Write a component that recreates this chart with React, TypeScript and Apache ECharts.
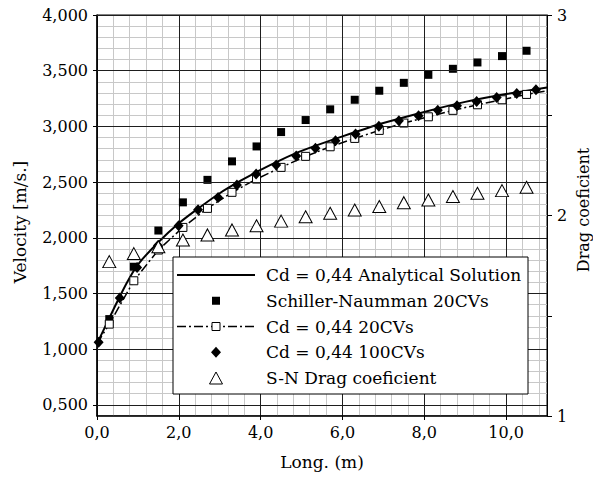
import React, { useEffect, useRef } from "react";
import * as echarts from "echarts";

// ---- data ----
const analyticX = [0, 0.25, 0.5, 0.75, 1, 1.5, 2, 2.5, 3, 3.5, 4, 4.5, 5, 6, 7, 8, 9, 10, 11];
const analyticV = [1.05, 1.24, 1.43, 1.61, 1.76, 1.96, 2.13, 2.27, 2.4, 2.51, 2.61, 2.7, 2.78, 2.91, 3.03, 3.13, 3.22, 3.29, 3.35];

const cvX = [0.3, 0.9, 1.5, 2.1, 2.7, 3.3, 3.9, 4.5, 5.1, 5.7, 6.3, 6.9, 7.5, 8.1, 8.7, 9.3, 9.9, 10.5];
const schillerV = [1.27, 1.74, 2.065, 2.318, 2.52, 2.686, 2.82, 2.949, 3.057, 3.153, 3.239, 3.32, 3.391, 3.463, 3.517, 3.574, 3.631, 3.679];
const cd20V = [1.225, 1.614, 1.89, 2.093, 2.264, 2.408, 2.527, 2.632, 2.731, 2.817, 2.892, 2.964, 3.03, 3.086, 3.144, 3.194, 3.239, 3.287];
const cd20Start = [0, 1.05];
const cd20End = [11, 3.32];
const snDrag = [1.77, 1.81, 1.844, 1.878, 1.903, 1.928, 1.949, 1.972, 1.994, 2.011, 2.027, 2.045, 2.064, 2.077, 2.095, 2.111, 2.124, 2.141];

const cd100X = [0.04, 0.557, 0.98, 1.49, 1.995, 2.47, 2.96, 3.42, 3.89, 4.38, 4.87, 5.34, 5.83, 6.32, 6.89, 7.38, 7.86, 8.33, 8.8, 9.28, 9.77, 10.26, 10.73];
const cd100V = [1.061, 1.459, 1.734, 1.93, 2.108, 2.251, 2.362, 2.473, 2.572, 2.654, 2.734, 2.803, 2.871, 2.931, 3.001, 3.05, 3.095, 3.144, 3.185, 3.224, 3.26, 3.296, 3.329];

const velocityTicks = [0.5, 1, 1.5, 2, 2.5, 3, 3.5, 4];
const longTicks = [0, 2, 4, 6, 8, 10];
const dragLabelTicks = [1, 2, 3];
const dragTickMarks = [1, 1.5, 2, 2.5, 3];

const seriesNames = [
  "Cd = 0,44 Analytical Solution",
  "Schiller-Naumman 20CVs",
  "Cd = 0,44 20CVs",
  "Cd = 0,44 100CVs",
  "S-N Drag coeficient",
];
const xName = "Long. (m)";
const yName = "Velocity [m/s.]";
const y2Name = "Drag coeficient";

const FONT = "DejaVu Serif";
const MINOR = "#c8c8c8";
const MAJOR = "#1e1e1e";

export default function App() {
  const ref = useRef<HTMLDivElement>(null);
  useEffect(() => {
    if (!ref.current) return;
    const chart = echarts.init(ref.current, null, { renderer: "svg" });

    const legendLeft = 173;
    const legendTop = 257;
    const rowY = (i: number) => 275 + 25.75 * i;
    const symX = 216;
    const textX = 266;
    const legendFont = `17px "${FONT}"`;
    const nameFont = `17px "${FONT}"`;

    const legendGraphics: any[] = [
      {
        type: "rect",
        z: 100,
        shape: { x: legendLeft, y: legendTop, width: 355, height: 137 },
        style: { fill: "#fff", stroke: "#000", lineWidth: 1 },
      },
      {
        type: "line",
        z: 101,
        shape: { x1: 177, y1: rowY(0), x2: 255, y2: rowY(0) },
        style: { stroke: "#000", lineWidth: 2 },
      },
      {
        type: "rect",
        z: 101,
        shape: { x: symX - 4, y: rowY(1) - 4, width: 8, height: 8 },
        style: { fill: "#000" },
      },
      {
        type: "line",
        z: 101,
        shape: { x1: 177, y1: rowY(2), x2: 255, y2: rowY(2) },
        style: { stroke: "#000", lineWidth: 1.5, lineDash: [9, 3, 2, 3] },
      },
      {
        type: "rect",
        z: 102,
        shape: { x: symX - 4, y: rowY(2) - 4, width: 8, height: 8 },
        style: { fill: "#fff", stroke: "#000", lineWidth: 1 },
      },
      {
        type: "polygon",
        z: 101,
        shape: { points: [[symX, rowY(3) - 5.5], [symX + 5, rowY(3)], [symX, rowY(3) + 5.5], [symX - 5, rowY(3)]] },
        style: { fill: "#000" },
      },
      {
        type: "polygon",
        z: 101,
        shape: { points: [[symX, rowY(4) - 6], [symX + 6.5, rowY(4) + 6], [symX - 6.5, rowY(4) + 6]] },
        style: { fill: "#fff", stroke: "#000", lineWidth: 1 },
      },
      ...seriesNames.map((n, i) => ({
        type: "text",
        z: 101,
        x: textX,
        y: rowY(i),
        style: { text: n, font: legendFont, fill: "#000", align: "left", verticalAlign: "middle" },
      })),
      {
        type: "text",
        z: 101,
        x: 322,
        y: 462,
        style: { text: xName, font: nameFont, fill: "#000", align: "center", verticalAlign: "middle" },
      },
      {
        type: "text",
        z: 101,
        x: 20,
        y: 222,
        rotation: Math.PI / 2,
        style: { text: yName, font: nameFont, fill: "#000", align: "center", verticalAlign: "middle" },
      },
      {
        type: "text",
        z: 101,
        x: 583,
        y: 210,
        rotation: Math.PI / 2,
        style: { text: y2Name, font: `16px "${FONT}"`, fill: "#000", align: "center", verticalAlign: "middle" },
      },
    ];

    const hiddenAxisParts = {
      axisLine: { show: false },
      axisTick: { show: false },
      axisLabel: { show: false },
    };

    const option: any = {
      animation: false,
      backgroundColor: "#fff",
      textStyle: { fontFamily: FONT },
      grid: { left: 97, top: 15, right: 46, bottom: 62, show: true, borderColor: "#000", borderWidth: 1, backgroundColor: "transparent" },
      xAxis: [
        {
          type: "value",
          min: 0,
          max: 11,
          interval: 2,
          z: 2,
          axisLine: { show: true, onZero: false, lineStyle: { color: "#000", width: 1.5 } },
          axisTick: { show: true, customValues: longTicks, length: 4, lineStyle: { color: "#000" } },
          axisLabel: {
            customValues: longTicks,
            formatter: (v: number) => v.toFixed(1).replace(".", ","),
            fontFamily: FONT,
            fontSize: 16,
            color: "#000",
            margin: 8,
          },
          splitLine: { show: true, lineStyle: { color: MAJOR, width: 1 } },
        },
        {
          type: "value",
          min: 0,
          max: 11,
          interval: 0.4,
          z: 0,
          ...hiddenAxisParts,
          splitLine: { show: true, lineStyle: { color: MINOR, width: 1 } },
        },
      ],
      yAxis: [
        {
          type: "value",
          position: "left",
          min: 0.4,
          max: 4,
          interval: 0.1,
          z: 2,
          axisLine: { show: true, onZero: false, lineStyle: { color: "#000", width: 1.5 } },
          axisTick: { show: true, customValues: velocityTicks, length: 4, lineStyle: { color: "#000" } },
          axisLabel: {
            customValues: velocityTicks,
            formatter: (v: number) => v.toFixed(3).replace(".", ","),
            fontFamily: FONT,
            fontSize: 16,
            color: "#000",
            margin: 9,
          },
          splitLine: { show: false },
        },
        {
          type: "value",
          position: "right",
          min: 1,
          max: 3,
          interval: 0.5,
          z: 2,
          axisLine: { show: true, onZero: false, lineStyle: { color: "#000", width: 1 } },
          axisTick: { show: true, customValues: dragTickMarks, length: 5, lineStyle: { color: "#000" } },
          axisLabel: {
            customValues: dragLabelTicks,
            formatter: (v: number) => String(v),
            fontFamily: FONT,
            fontSize: 16,
            color: "#000",
            margin: 10,
          },
          splitLine: { show: false },
        },
        {
          type: "value",
          position: "left",
          min: 0.4,
          max: 4,
          interval: 0.1,
          z: 0,
          ...hiddenAxisParts,
          splitLine: { show: true, lineStyle: { color: MINOR, width: 1 } },
        },
      ],
      series: [
        {
          type: "line",
          symbol: "none",
          data: [],
          z: 1,
          silent: true,
          markLine: {
            silent: true,
            symbol: ["none", "none"],
            label: { show: false },
            lineStyle: { color: MAJOR, width: 1, type: "solid" },
            emphasis: { disabled: true },
            data: velocityTicks.map((v) => ({ yAxis: v })),
          },
        },
        {
          name: seriesNames[0],
          type: "line",
          smooth: 0.3,
          symbol: "none",
          data: analyticX.map((x, i) => [x, analyticV[i]]),
          lineStyle: { color: "#000", width: 2 },
          z: 3,
        },
        {
          name: seriesNames[1],
          type: "scatter",
          symbol: "rect",
          symbolSize: 8,
          itemStyle: { color: "#000", opacity: 1 },
          data: cvX.map((x, i) => [x, schillerV[i]]),
          z: 4,
        },
        {
          name: seriesNames[2],
          type: "line",
          symbol: "rect",
          symbolSize: 8,
          showAllSymbol: true,
          itemStyle: { color: "#fff", borderColor: "#000", borderWidth: 1, opacity: 1 },
          lineStyle: { color: "#000", width: 1.5, type: [9, 3, 2, 3] },
          data: [
            { value: cd20Start, symbol: "none" },
            ...cvX.map((x, i) => [x, cd20V[i]]),
            { value: cd20End, symbol: "none" },
          ],
          z: 4,
        },
        {
          name: seriesNames[3],
          type: "scatter",
          symbol: "diamond",
          symbolSize: [10, 11],
          itemStyle: { color: "#000", opacity: 1 },
          data: cd100X.map((x, i) => [x, cd100V[i]]),
          z: 5,
        },
        {
          name: seriesNames[4],
          type: "scatter",
          yAxisIndex: 1,
          symbol: "triangle",
          symbolSize: [13, 12],
          itemStyle: { color: "#fff", borderColor: "#000", borderWidth: 1, opacity: 1 },
          data: cvX.map((x, i) => [x, snDrag[i]]),
          z: 6,
        },
      ],
      graphic: legendGraphics,
    };
    chart.setOption(option);
    return () => chart.dispose();
  }, []);
  return <div ref={ref} style={{ position: "absolute", left: 0, top: 0, width: 593, height: 478 }} />;
}
